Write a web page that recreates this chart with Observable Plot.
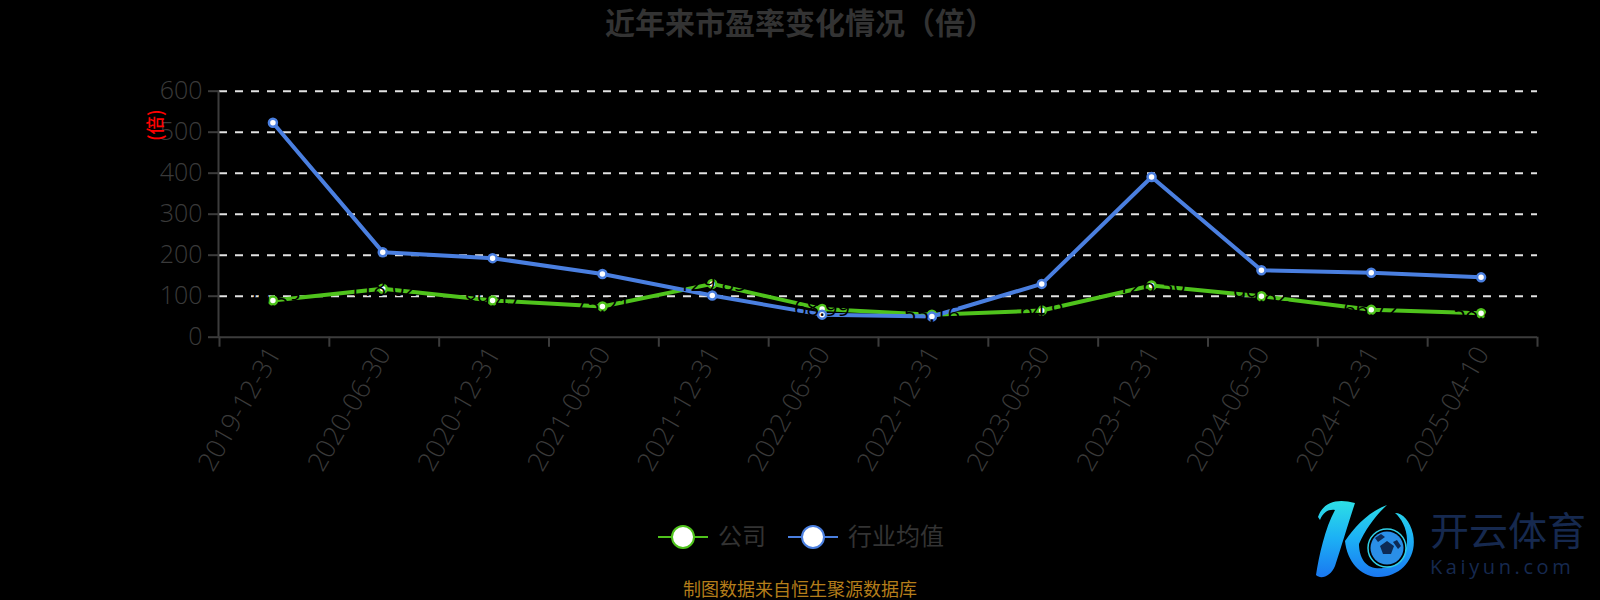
<!DOCTYPE html>
<html lang="zh">
<head>
<meta charset="utf-8">
<script src="https://cdn.jsdelivr.net/npm/d3@7"></script>
<script src="https://cdn.jsdelivr.net/npm/@observablehq/plot@0.6"></script>
<style>
html,body{margin:0;padding:0;background:#000;width:1600px;height:600px;overflow:hidden;position:relative}
body{font-family:"Open Sans","Noto Sans CJK SC",sans-serif}
#title{height:60px;text-align:center;font:700 30px/42px "Noto Sans CJK SC",sans-serif;color:#333}
#chart{height:430px}
#chart svg{display:block;background:transparent}
#legend{position:absolute;top:521px;left:658px;height:32px;display:flex;align-items:center;color:#333;font:24px/28px "Noto Sans CJK SC",sans-serif}
#legend .item{display:flex;align-items:center;margin-right:22px}
#legend span{margin-left:10px;position:relative;top:-2px}
#caption{position:absolute;top:577px;left:0;width:1600px;text-align:center;font:18px/23px "Noto Sans CJK SC",sans-serif;color:#b47d1a}
#brand{position:absolute;left:1430px;top:506px;color:#16294f;font-family:"Noto Sans CJK SC",sans-serif}
#brand .cn{font-size:39px;line-height:44px;height:44px}
#brand .en{font:20px/26px "Open Sans",sans-serif;letter-spacing:3.6px;margin-top:4px}
#logo{position:absolute;left:1315px;top:496px}
</style>
</head>
<body>
<div id="title">近年来市盈率变化情况（倍）</div>
<div id="chart"></div>
<div id="legend"></div>
<div id="caption">制图数据来自恒生聚源数据库</div>
<svg id="logo" width="110" height="90" viewBox="0 0 110 90">
  <defs><linearGradient id="kg" gradientUnits="userSpaceOnUse" x1="0" y1="0" x2="0" y2="85"><stop offset="0" stop-color="#2fe6e4"/><stop offset=".5" stop-color="#1cb0f5"/><stop offset="1" stop-color="#1a72f0"/></linearGradient></defs>
  <path fill="url(#kg)" d="M3,21 C8,6 22,2 40,7 C34,25 26,52 20,70 C16,80 6,84 1,79 C4,60 10,32 20,14 C14,13 8,16 5,24 Z"/>
  <path fill="url(#kg)" d="M72,9 C55,15 40,30 30,45 C32,65 45,80 62,81 C85,82 103,62 98,38 C95,25 88,17 80,17 C86,22 92,32 92,44 C92,64 76,74 60,72 C48,70 44,58 44,48 C50,34 60,20 72,9 Z"/>
  <circle cx="72" cy="52" r="19" fill="#000" stroke="#2fd0e8" stroke-width="1.5"/>
  <circle cx="72" cy="52" r="16.5" fill="#2a8fe8"/>
  <path fill="#0d2a55" d="M72,45 L79,50 L76,58 L68,58 L65,50 Z M60,42 L66,38 L70,41 L63,46 Z M82,44 L86,50 L83,53 L78,46 Z"/>
</svg>
<div id="brand"><div class="cn">开云体育</div><div class="en">Kaiyun.com</div></div>
<script>
const dates = ["2019-12-31","2020-06-30","2020-12-31","2021-06-30","2021-12-31","2022-06-30","2022-12-31","2023-06-30","2023-12-31","2024-06-30","2024-12-31","2025-04-10"];
const company = [89.5,118,89.5,75,130,69,55,65,126,99.8,66.7,58.5];
const industry = [523,207.4,192.8,154,101.7,55,50.5,130,390.6,163.4,157,146];
const companyLabels = ["89.53","118.02","89.47","75.21","129.85","68.99","55.16","64.9","126.30","99.82","66.72","58.46"];
const yTicks = [0,100,200,300,400,500,600];
const gridTicks = [100,200,300,400,500,600];
const boundaries = d3.range(-0.5, dates.length, 1);
const green = "#4fc31c", blue = "#4a7fe0", ink = "#3a3a3a", axisInk = "#3c3c3c";

const rowsC = company.map((v,i)=>({i,v,label:companyLabels[i]}));
const rowsI = industry.map((v,i)=>({i,v}));
const nudge = -1.5;

const plot = Plot.plot({
  width:1600, height:430,
  marginTop:30.7, marginBottom:153.3, marginLeft:219, marginRight:63,
  style:{background:"transparent",fontFamily:'"Open Sans",sans-serif',overflow:"visible"},
  x:{type:"linear",domain:[-0.5,dates.length-0.5],label:null},
  y:{domain:[0,600],label:null},
  marks:[
    Plot.gridY(gridTicks,{stroke:"#e2e2e2",strokeOpacity:1,strokeWidth:2,strokeDasharray:"8 8"}),
    Plot.ruleY([0],{stroke:axisInk,strokeWidth:2}),
    Plot.ruleX([-0.5],{stroke:axisInk,strokeWidth:2,dx:-1}),
    Plot.axisY({ticks:yTicks,tickSize:11,tickPadding:6,stroke:axisInk,strokeWidth:2,fill:ink,fontSize:25,fontWeight:300,label:null,tickFormat:d=>d}),
    Plot.axisX({ticks:boundaries,tickSize:10,stroke:axisInk,strokeWidth:2,tickFormat:()=>"",label:null}),
    Plot.axisX({ticks:d3.range(dates.length),tickSize:0,tickPadding:12,tickRotate:-60,fill:ink,fontSize:26.5,fontWeight:300,label:null,tickFormat:i=>dates[i]}),
    Plot.line(rowsC,{x:"i",y:"v",dx:nudge,stroke:green,strokeWidth:4}),
    Plot.dot(rowsC,{x:"i",y:"v",dx:nudge,r:4,fill:"#fff",stroke:green,strokeWidth:2.5}),
    Plot.line(rowsI,{x:"i",y:"v",dx:nudge,stroke:blue,strokeWidth:4}),
    Plot.dot(rowsI,{x:"i",y:"v",dx:nudge,r:4,fill:"#fff",stroke:blue,strokeWidth:2.5}),
    Plot.text(rowsC,{x:"i",y:"v",dx:nudge,text:"label",fill:"#000",fontSize:22}),
    Plot.text(["(倍)"],{frameAnchor:"top-left",dx:-71,dy:34,rotate:-90,fill:"#f00",fontSize:18.5,fontWeight:500,textAnchor:"middle",fontFamily:'"Noto Sans CJK SC",sans-serif'})
  ]
});
document.getElementById("chart").append(plot);

const legendItems = [["公司",green],["行业均值",blue]];
const lg = d3.select("#legend");
for (const [name,color] of legendItems){
  const it = lg.append("div").attr("class","item");
  const s = it.append("svg").attr("width",50).attr("height",28);
  s.append("line").attr("x1",0).attr("x2",50).attr("y1",14).attr("y2",14).attr("stroke",color).attr("stroke-width",2);
  s.append("circle").attr("cx",25).attr("cy",14).attr("r",11).attr("fill","#fff").attr("stroke",color).attr("stroke-width",2);
  it.append("span").text(name);
}
</script>
</body>
</html>
